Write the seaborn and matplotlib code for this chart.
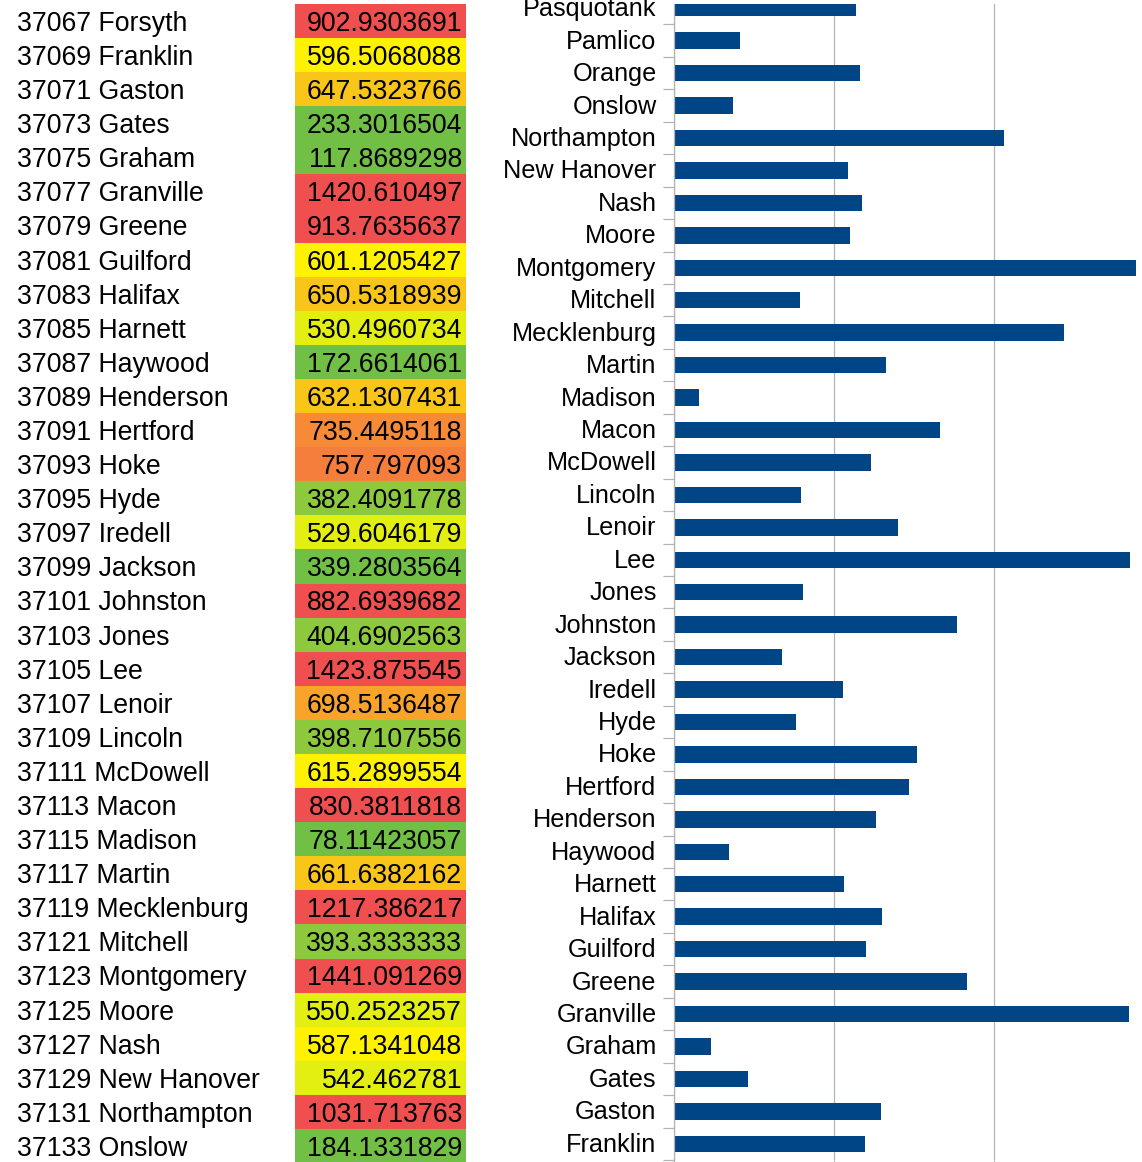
import numpy as np
import pandas as pd
import matplotlib
matplotlib.use("Agg")
import matplotlib.pyplot as plt
from matplotlib.transforms import ScaledTranslation
import seaborn as sns

# ---- data -------------------------------------------------------------
TABLE_FIPS = [37067, 37069, 37071, 37073, 37075, 37077, 37079, 37081, 37083,
              37085, 37087, 37089, 37091, 37093, 37095, 37097, 37099, 37101,
              37103, 37105, 37107, 37109, 37111, 37113, 37115, 37117, 37119,
              37121, 37123, 37125, 37127, 37129, 37131, 37133]
TABLE_NAMES = ["Forsyth", "Franklin", "Gaston", "Gates", "Graham", "Granville",
               "Greene", "Guilford", "Halifax", "Harnett", "Haywood",
               "Henderson", "Hertford", "Hoke", "Hyde", "Iredell", "Jackson",
               "Johnston", "Jones", "Lee", "Lenoir", "Lincoln", "McDowell",
               "Macon", "Madison", "Martin", "Mecklenburg", "Mitchell",
               "Montgomery", "Moore", "Nash", "New Hanover", "Northampton",
               "Onslow"]
TABLE_VALUES = [902.9303691, 596.5068088, 647.5323766, 233.3016504,
                117.8689298, 1420.610497, 913.7635637, 601.1205427,
                650.5318939, 530.4960734, 172.6614061, 632.1307431,
                735.4495118, 757.797093, 382.4091778, 529.6046179,
                339.2803564, 882.6939682, 404.6902563, 1423.875545,
                698.5136487, 398.7107556, 615.2899554, 830.3811818,
                78.11423057, 661.6382162, 1217.386217, 393.3333333,
                1441.091269, 550.2523257, 587.1341048, 542.462781,
                1031.713763, 184.1331829]

# counties shown in the bar chart, top to bottom
BAR_COUNTIES = ["Pasquotank", "Pamlico", "Orange", "Onslow", "Northampton",
                "New Hanover", "Nash", "Moore", "Montgomery", "Mitchell",
                "Mecklenburg", "Martin", "Madison", "Macon", "McDowell",
                "Lincoln", "Lenoir", "Lee", "Jones", "Johnston", "Jackson",
                "Iredell", "Hyde", "Hoke", "Hertford", "Henderson", "Haywood",
                "Harnett", "Halifax", "Guilford", "Greene", "Granville",
                "Graham", "Gates", "Gaston", "Franklin"]
EXTRA_NAMES = ["Pasquotank", "Pamlico", "Orange"]
EXTRA_VALUES = [569.0, 207.0, 581.0]

# ---- styling ----------------------------------------------------------
BAR_COLOR = "#004586"
AXIS_GRAY = "#b3b3b3"
# conditional-format fill: upper bound of each step and its colour
STEP_BOUNDS = [360, 470, 575, 625, 690, 720, 745, 800, np.inf]
STEP_COLORS = ["#71bf44", "#8dc93c", "#e2ef10", "#fff200", "#fac519",
               "#f8a42a", "#f68a36", "#f57e3c", "#f04f50"]


def fill_for(v):
    for bound, col in zip(STEP_BOUNDS, STEP_COLORS):
        if v < bound:
            return col
    return STEP_COLORS[-1]


sns.set_style("white")
plt.rcParams["font.family"] = ["Liberation Sans", "DejaVu Sans"]

W, H = 1142, 1162
fig = plt.figure(figsize=(W / 100, H / 100), dpi=100)


def px_axes(x0, y0, x1, y1):
    return fig.add_axes([x0 / W, 1 - y1 / H, (x1 - x0) / W, (y1 - y0) / H])


# ---- table on the left ------------------------------------------------
n_rows = len(TABLE_NAMES)
row_h = 34.09
ax_t = px_axes(0, 4, 480, 4 + n_rows * row_h)
ax_t.set_xlim(0, 480)
ax_t.set_ylim(n_rows - 0.5, -0.5)
rows = np.arange(n_rows)
ax_t.barh(rows, [171] * n_rows, left=295, height=1.0,
          color=[fill_for(v) for v in TABLE_VALUES], linewidth=0)
for i, (fips, name, val) in enumerate(zip(TABLE_FIPS, TABLE_NAMES, TABLE_VALUES)):
    ax_t.text(17, i + 0.29, f"{fips} {name}", fontsize=19.2,
              ha="left", va="baseline", color="black")
    ax_t.text(462, i + 0.29, f"{val:.10g}", fontsize=19.2,
              ha="right", va="baseline", color="black")
ax_t.axis("off")

# ---- horizontal bar chart on the right --------------------------------
lookup = dict(zip(TABLE_NAMES, TABLE_VALUES))
lookup.update(dict(zip(EXTRA_NAMES, EXTRA_VALUES)))
df = pd.DataFrame({"county": BAR_COUNTIES,
                   "value": [lookup[c] for c in BAR_COUNTIES]})

ax = px_axes(673.5, 4, 1154.7, 1160)
sns.barplot(data=df, x="value", y="county", orient="h", color=BAR_COLOR,
            saturation=1, width=0.51, linewidth=0, ax=ax)
ax.set_xlim(0, 1500)
ax.set_ylim(len(BAR_COUNTIES) - 0.5, -0.13)
ax.set_xlabel("")
ax.set_ylabel("")

ax.set_xticks([0, 500, 1000, 1500])
ax.xaxis.grid(True, color=AXIS_GRAY, linewidth=0.9)
ax.yaxis.grid(False)
ax.set_axisbelow(True)
ax.tick_params(axis="x", length=8, width=0.9, color=AXIS_GRAY,
               direction="out", bottom=True, labelbottom=False)

ax.set_yticks(np.arange(0.5, len(BAR_COUNTIES), 1), minor=True)
ax.tick_params(axis="y", which="major", length=0, pad=12.2,
               labelsize=18.2, labelcolor="black")
ax.tick_params(axis="y", which="minor", length=7.6, width=0.9,
               color=AXIS_GRAY, direction="out", left=True)
# nudge the category labels up a little
lift = ScaledTranslation(0, 1.5 / 100, fig.dpi_scale_trans)
for lab in ax.get_yticklabels():
    lab.set_transform(lab.get_transform() + lift)

for side in ["top", "right", "bottom"]:
    ax.spines[side].set_visible(False)
ax.spines["left"].set_color(AXIS_GRAY)
ax.spines["left"].set_linewidth(0.9)

fig.savefig("out.png", dpi=100)
